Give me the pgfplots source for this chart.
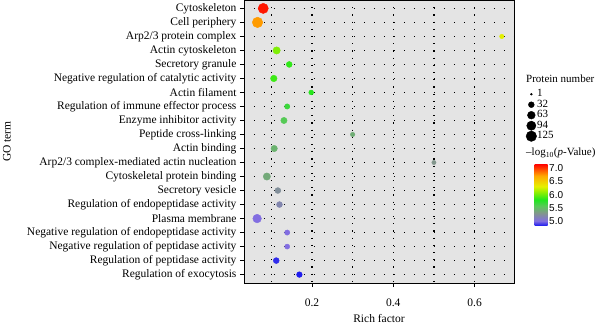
\documentclass[border=0pt]{standalone}
\usepackage{fontspec}
\setmainfont{Liberation Serif}
\newfontfamily\sansf{Liberation Sans}
\usepackage{pgfplots}
\usepackage{pgfplotstable}
\pgfplotsset{compat=1.18}
\definecolor{panel}{RGB}{228,228,228}

\pgfplotstableread{
y x p n
1 0.080 7.10 118
2 0.066 6.75 125
3 0.667 6.30 16
4 0.113 6.05 55
5 0.144 5.85 33
6 0.106 5.88 42
7 0.198 5.82 20
8 0.139 5.68 25
9 0.131 5.58 38
10 0.300 5.42 16
11 0.107 5.45 40
12 0.500 5.30 14
13 0.089 5.40 54
14 0.116 5.25 33
15 0.120 5.18 33
16 0.065 5.00 80
17 0.139 5.00 24
18 0.139 5.00 22
19 0.112 4.86 33
20 0.169 4.83 30
}\datatable

\begin{document}
\begin{tikzpicture}
\begin{axis}[
  scale only axis, width=270pt, height=283pt,
  xmin=0.0327, xmax=0.697, ymin=0.4, ymax=20.6, y dir=reverse,
  xtick={0.2,0.4,0.6}, xticklabels={0.2,0.4,0.6},
  ytick={1,...,20},
  yticklabels={Cytoskeleton, Cell periphery, Arp2/3 protein complex, Actin cytoskeleton, Secretory granule, Negative regulation of catalytic activity, Actin filament, Regulation of immune effector process, Enzyme inhibitor activity, Peptide cross-linking, Actin binding, Arp2/3 complex-mediated actin nucleation, Cytoskeletal protein binding, Secretory vesicle, Regulation of endopeptidase activity, Plasma membrane, Negative regulation of endopeptidase activity, Negative regulation of peptidase activity, Regulation of peptidase activity, Regulation of exocytosis},
  tick pos=left, tick align=outside, major tick length=4pt,
  tick style={black, line width=0.7pt},
  axis background/.style={fill=panel},
  axis line style={black, line width=0.8pt},
  yticklabel style={font=\fontsize{11.5}{13}\selectfont},
  xticklabel style={font=\fontsize{11.5}{13}\selectfont, yshift=-8pt},
  /pgf/number format/assume math mode=true,
  xlabel={Rich factor}, ylabel={GO term},
  label style={font=\fontsize{11.5}{13}\selectfont},
  xlabel style={at={(axis description cs:0.5,-0.1245)}, anchor=center},
  ylabel style={at={(axis description cs:-0.878,0.5)}, anchor=center, rotate=0},
  colormap={go}{rgb255(0pt)=(20,20,240); rgb255(19pt)=(130,110,225); rgb255(49pt)=(130,150,140); rgb255(75pt)=(90,200,90); rgb255(99pt)=(30,230,30); rgb255(130pt)=(150,240,0); rgb255(150pt)=(230,240,0); rgb255(190pt)=(255,170,0); rgb255(235pt)=(255,0,0)},
  point meta min=4.81, point meta max=7.16,
  colorbar,
  colorbar style={
    at={(parent axis.south east)}, anchor=south west, xshift=12pt, yshift=57pt,
    scale only axis, width=13pt, height=62pt,
    ytick={5,5.5,6,6.5,7}, yticklabels={5.0,5.5,6.0,6.5,7.0},
    yticklabel style={font=\sansf\fontsize{10}{12}\selectfont, inner sep=1.5pt},
    major tick length=0pt, axis line style={draw=none},
    yticklabel pos=right,
  },
  legend image code/.code={\draw[#1] plot coordinates {(0.15cm,0cm)};},
  legend style={at={(axis description cs:1.044,0.6864)}, anchor=north west, draw=none, fill=none,
    inner sep=0pt, row sep=0pt, font=\fontsize{11}{11}\selectfont,
    nodes={text height=7.5pt, text depth=2pt, inner sep=0.5pt}},
  legend cell align=left,
]
\pgfplotsinvokeforeach{1,...,20}{
  \draw[black, line width=1.2pt, dash pattern=on 1.2pt off 8.8pt] (axis cs:0.0327,#1) -- (axis cs:0.697,#1);
}
\pgfplotsinvokeforeach{0.1,0.2,0.3,0.4,0.5,0.6}{
  \draw[black, line width=1.2pt, dash pattern=on 1.2pt off 6pt] (axis cs:#1,0.4) -- (axis cs:#1,20.6);
}
\addplot[scatter, only marks, mark=*, scatter src=explicit, forget plot,
  visualization depends on={\thisrow{n} \as \nn},
  scatter/use mapped color={draw=mapped color, fill=mapped color},
  scatter/@pre marker code/.append style={/tikz/mark size={1+4.25*(sqrt(\nn)-1)/10.18}}]
  table[x=x, y=y, meta=p] {\datatable};
\addlegendimage{only marks, mark=*, black, mark size=1pt}
\addlegendentry{1}
\addlegendimage{only marks, mark=*, black, mark size=2.94pt}
\addlegendentry{32}
\addlegendimage{only marks, mark=*, black, mark size=3.90pt}
\addlegendentry{63}
\addlegendimage{only marks, mark=*, black, mark size=4.63pt}
\addlegendentry{94}
\addlegendimage{only marks, mark=*, black, mark size=5.25pt}
\addlegendentry{125}
\end{axis}
\node[anchor=west, inner sep=0pt, font=\fontsize{11}{13}\selectfont] at (282pt,204pt) {Protein number};
\node[anchor=west, inner sep=0pt, font=\fontsize{11}{13}\selectfont] at (282pt,130pt) {{\textendash}log\textsubscript{10}(\textit{p}-Value)};
\pgfresetboundingbox
\useasboundingbox (-244pt,-41pt) rectangle (356pt,283pt);
\end{tikzpicture}
\end{document}
